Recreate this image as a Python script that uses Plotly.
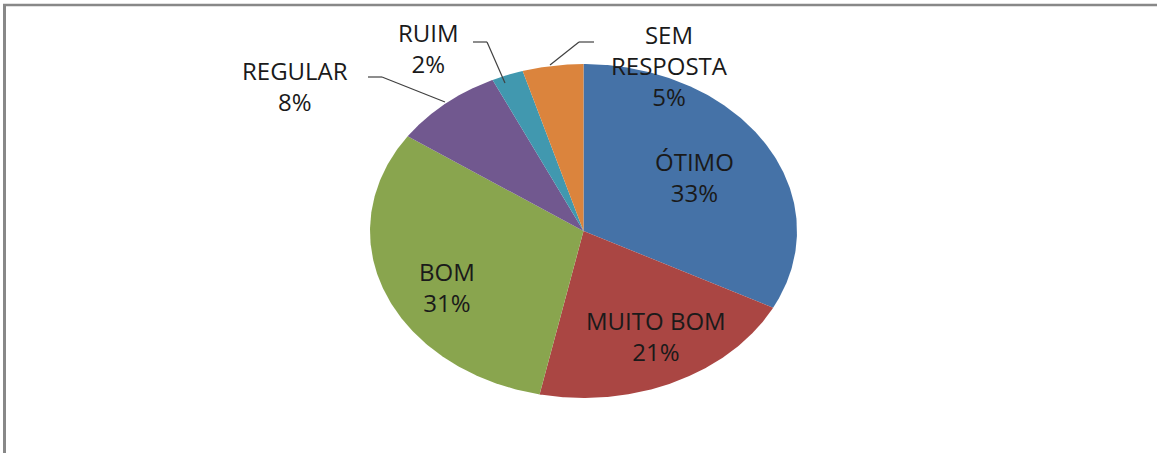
import numpy as np
import plotly.graph_objects as go

# ============================
# DADOS
# ============================

categorias = ["ÓTIMO", "MUITO BOM", "BOM", "REGULAR", "RUIM", "SEM RESPOSTA"]
percentuais = [32.6, 20.7, 31.3, 8.4, 2.4, 4.6]
rotulos = ["ÓTIMO", "MUITO BOM", "BOM", "REGULAR", "RUIM", "SEM<br>RESPOSTA"]
cores = ["#4572A7", "#AA4643", "#89A54E", "#71588F", "#4198AF", "#DB843D"]

# ============================
# GEOMETRIA (pixels da janela)
# ============================

W, H = 1157, 453
CX, CY = 583.5, 231.0   # centro da pizza
RX, RY = 213.5, 167.0   # raios (pizza esticada)

# posição dos rótulos (px, centro do bloco de texto)
pos_rotulos = {
    "ÓTIMO": (694, 177),
    "MUITO BOM": (656, 336),
    "BOM": (447, 287),
    "REGULAR": (295, 86),
    "RUIM": (428, 48),
    "SEM RESPOSTA": (669, 66),
}

# linhas de chamada (px)
linhas_chamada = [
    [(368, 77), (382, 77), (445, 102)],
    [(473, 42), (487, 42), (505, 83)],
    [(594, 42), (579, 42), (550, 65)],
]

fig = go.Figure()

# ============================
# FATIAS
# ============================

total = sum(percentuais)
inicio = 0.0
for nome, valor, cor in zip(categorias, percentuais, cores):
    fim = inicio + valor / total * 360
    ang = np.radians(90 - np.linspace(inicio, fim, 200))
    xs = np.concatenate([[0], np.cos(ang), [0]])
    ys = np.concatenate([[0], np.sin(ang), [0]])
    fig.add_trace(go.Scatter(
        x=xs, y=ys,
        mode="lines",
        fill="toself",
        fillcolor=cor,
        line=dict(width=0, color=cor),
        name=nome,
        hoverinfo="name",
    ))
    inicio = fim

# ============================
# RÓTULOS
# ============================

def px_x(x):
    return x / W


def px_y(y):
    return 1 - y / H


for nome, rot, valor in zip(categorias, rotulos, percentuais):
    x, y = pos_rotulos[nome]
    fig.add_annotation(
        x=px_x(x), y=px_y(y), xref="paper", yref="paper",
        xanchor="center", yanchor="middle",
        text=f"{rot}<br>{valor:.0f}%",
        showarrow=False,
        align="center",
        font=dict(family="Open Sans", size=24, color="#1a1a1a"),
    )

for pts in linhas_chamada:
    for (x0, y0), (x1, y1) in zip(pts[:-1], pts[1:]):
        fig.add_shape(
            type="line", xref="paper", yref="paper",
            x0=px_x(x0), y0=px_y(y0), x1=px_x(x1), y1=px_y(y1),
            line=dict(color="#404040", width=1.2),
        )

# moldura (cinza, topo e esquerda)
fig.add_shape(type="line", xref="paper", yref="paper",
              x0=px_x(3), y0=px_y(5), x1=1, y1=px_y(5),
              line=dict(color="#888888", width=2.5))
fig.add_shape(type="line", xref="paper", yref="paper",
              x0=px_x(4.5), y0=px_y(4), x1=px_x(4.5), y1=0,
              line=dict(color="#888888", width=3))

# ============================
# LAYOUT
# ============================

fig.update_layout(
    width=W, height=H,
    margin=dict(l=0, r=0, t=0, b=0),
    paper_bgcolor="white",
    plot_bgcolor="white",
    showlegend=False,
    xaxis=dict(range=[-CX / RX, (W - CX) / RX], visible=False, fixedrange=True),
    yaxis=dict(range=[-(H - CY) / RY, CY / RY], visible=False, fixedrange=True),
)

fig.write_html(
    "out.html",
    config={"displayModeBar": False},
    post_script="document.body.style.margin='0';document.body.style.overflow='hidden';",
)
